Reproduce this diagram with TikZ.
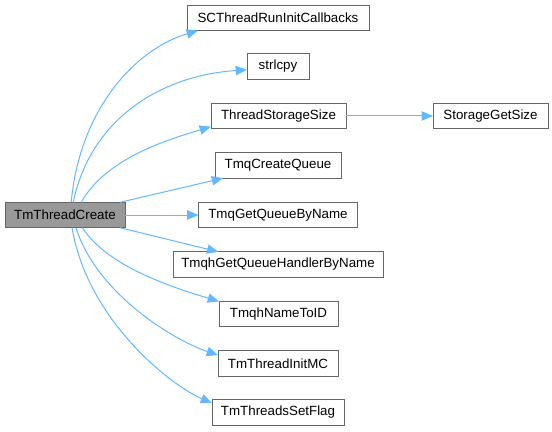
\documentclass[tikz,border=0pt]{standalone}
\usepackage{fontspec}
\setmainfont{Liberation Sans}
\usetikzlibrary{arrows.meta}
\definecolor{Edge}{HTML}{63B8FF}
\definecolor{Frame}{HTML}{666666}
\definecolor{Focus}{HTML}{999999}

\begin{document}
\begin{tikzpicture}[x=0.75pt,y=-0.75pt,
  fn/.style={draw=Frame,line width=0.75pt,minimum height=19pt,inner sep=0pt,outer sep=0pt,font=\fontsize{10}{12}\selectfont},
  call/.style={Edge,line width=0.75pt,-{Triangle[length=8.5pt,width=7pt]}}]
  \useasboundingbox (0,0) rectangle (552,431);
  \node[fn,fill=Focus,minimum width=90pt] (main) at (65,215) {TmThreadCreate};
  \node[fn,minimum width=136.5pt] (scb) at (278,18) {SCThreadRunInitCallbacks};
  \node[fn,minimum width=46.5pt] (strl) at (278,66.5) {strlcpy};
  \node[fn,minimum width=101.25pt] (tss) at (278.5,116) {ThreadStorageSize};
  \node[fn,minimum width=86.25pt] (sgs) at (490.5,116) {StorageGetSize};
  \node[fn,minimum width=94.5pt] (tcq) at (278,165.5) {TmqCreateQueue};
  \node[fn,minimum width=119.25pt] (tgq) at (278,215) {TmqGetQueueByName};
  \node[fn,minimum width=157.5pt] (thg) at (278,264.5) {TmqhGetQueueHandlerByName};
  \node[fn,minimum width=89.25pt] (tnt) at (278.5,314) {TmqhNameToID};
  \node[fn,minimum width=90pt] (tim) at (278,363.5) {TmThreadInitMC};
  \node[fn,minimum width=99pt] (tsf) at (278,412.5) {TmThreadsSetFlag};
  % calls out of TmThreadCreate
  \draw[call] (main.64) .. controls +(9,-97) and +(-59,17) .. (scb.189);
  \draw[call] (main.57) .. controls +(17,-82) and +(-88,6) .. (strl.186);
  \draw[call] (main.38) .. controls +(25,-45) and +(-40,12) .. (tss.189);
  \draw[call] (main.13) -- (tcq.193);
  \draw[call] (main.east) -- (tgq.west);
  \draw[call] (main.-13) -- (thg.168);
  \draw[call] (main.-36) .. controls +(25,40) and +(-40,-12) .. (tnt.168);
  \draw[call] (main.-49) .. controls +(20,65) and +(-45,-15) .. (tim.172);
  \draw[call] (main.-61) .. controls +(15,90) and +(-45,-20) .. (tsf.172);
  \draw[call] (tss.east) -- (sgs.west);
\end{tikzpicture}
\end{document}
